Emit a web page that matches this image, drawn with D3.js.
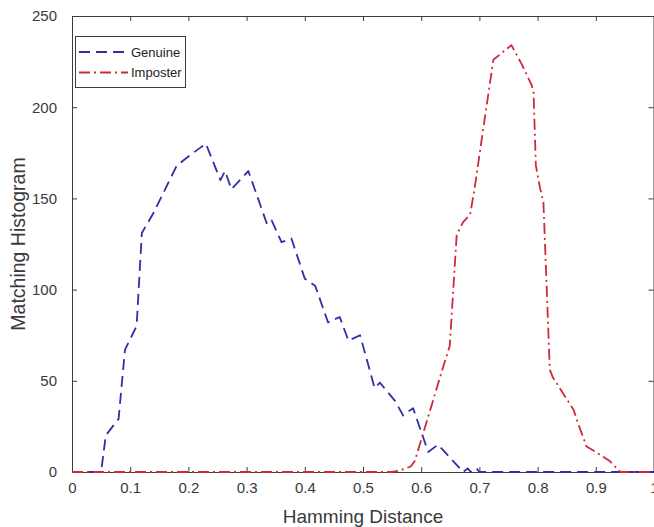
<!DOCTYPE html>
<html>
<head>
<meta charset="UTF-8">
<title>Matching Histogram</title>
<script src="https://cdnjs.cloudflare.com/ajax/libs/d3/7.8.5/d3.min.js"></script>
<style>
html, body { margin: 0; padding: 0; background: #fff; }
svg { font-family: 'Liberation Sans', Arial, sans-serif; display: block; }
</style>
</head>
<body>
<script>
// values
var genuineX = [0, 0.05, 0.058, 0.07, 0.08, 0.091, 0.111, 0.12, 0.14, 0.16, 0.18, 0.20, 0.23,
  0.255, 0.263, 0.274, 0.303, 0.335, 0.343, 0.36, 0.377, 0.40, 0.418, 0.44, 0.46, 0.475,
  0.495, 0.52, 0.529, 0.555, 0.569, 0.586, 0.612, 0.629, 0.672, 0.68, 0.685, 0.695, 0.70, 1];
var genuineY = [0, 0, 20, 25, 29, 67, 80, 131, 142, 155, 168, 173, 180,
  160, 165, 155, 165, 136, 138, 126, 128, 106, 102, 82, 85, 72,
  75, 46, 49, 39, 31, 35, 11, 15, 0, 2, 0, 2, 0, 0];

var imposterX = [0, 0.55, 0.565, 0.582, 0.589, 0.641, 0.649, 0.661, 0.672, 0.684, 0.692,
  0.707, 0.724, 0.755, 0.772, 0.79, 0.793, 0.797, 0.804, 0.81, 0.821, 0.826, 0.862, 0.868,
  0.884, 0.90, 0.924, 0.942, 1];
var imposterY = [0, 0, 1, 3, 6, 61, 69, 130, 137, 141, 156,
  189, 226, 234, 224, 212, 208, 168, 156, 148, 56, 52, 34, 28,
  14, 11, 6, 0, 0];

var xTicks = [0, 0.1, 0.2, 0.3, 0.4, 0.5, 0.6, 0.7, 0.8, 0.9, 1];
var yTicks = [0, 50, 100, 150, 200, 250];
var seriesNames = ["Genuine", "Imposter"];

var W = 654, H = 527;
var plotL = 72, plotR = 654, plotT = 16, plotB = 472;

var svg = d3.select("body").append("svg")
    .attr("width", W)
    .attr("height", H);

var x = d3.scaleLinear().domain([0, 1]).range([plotL, plotR]);
var y = d3.scaleLinear().domain([0, 250]).range([plotB, plotT]);

var axisColor = "#3c3c3c";
var fontTick = 15;

function styleAxis(g) {
    g.select(".domain").attr("stroke", axisColor);
    g.selectAll(".tick line").attr("stroke", axisColor);
    g.selectAll(".tick text").attr("fill", "#3a3a3a").attr("font-size", fontTick)
        .attr("font-family", "'Liberation Sans', Arial, sans-serif");
}

// box + ticks (inward, mirrored like matlab)
svg.append("g")
    .attr("transform", "translate(0," + plotB + ")")
    .call(d3.axisBottom(x).tickValues(xTicks).tickSizeInner(-5).tickSizeOuter(0)
        .tickPadding(10).tickFormat(d3.format("")))
    .call(styleAxis);
svg.append("g")
    .attr("transform", "translate(0," + plotT + ")")
    .call(d3.axisTop(x).tickValues(xTicks).tickSizeInner(-5).tickSizeOuter(0).tickFormat(""))
    .call(styleAxis);
svg.append("g")
    .attr("transform", "translate(" + plotL + ",0)")
    .call(d3.axisLeft(y).tickValues(yTicks).tickSizeInner(-5).tickSizeOuter(0).tickPadding(15))
    .call(styleAxis);
svg.append("g")
    .attr("transform", "translate(" + (plotR - 0.5) + ",0)")
    .call(d3.axisRight(y).tickValues(yTicks).tickSizeInner(-5).tickSizeOuter(0).tickFormat(""))
    .call(styleAxis);

var line = d3.line().x(function(d) { return x(d[0]); }).y(function(d) { return y(d[1]); });

var colors = ["#2f2fa8", "#cc2b3b"];
var dashes = ["11,6", "11,4,2,4"];
var series = [d3.zip(genuineX, genuineY), d3.zip(imposterX, imposterY)];

series.forEach(function(pts, i) {
    svg.append("path")
        .datum(pts)
        .attr("d", line)
        .attr("fill", "none")
        .attr("stroke", colors[i])
        .attr("stroke-width", 1.8)
        .attr("stroke-dasharray", dashes[i])
        .attr("stroke-linejoin", "round");
});

// axis labels
svg.append("text")
    .attr("x", (plotL + plotR) / 2)
    .attr("y", 523)
    .attr("text-anchor", "middle")
    .attr("font-size", 19)
    .attr("fill", "#3a3a3a")
    .text("Hamming Distance");
svg.append("text")
    .attr("transform", "translate(25," + ((plotT + plotB) / 2) + ") rotate(-90)")
    .attr("text-anchor", "middle")
    .attr("font-size", 19.5)
    .attr("fill", "#3a3a3a")
    .text("Matching Histogram");

// legend
var lg = svg.append("g");
lg.append("rect")
    .attr("x", 75.5).attr("y", 36.5)
    .attr("width", 110).attr("height", 51)
    .attr("fill", "#fff")
    .attr("stroke", axisColor);
seriesNames.forEach(function(name, i) {
    var ly = 52 + i * 20.5;
    lg.append("line")
        .attr("x1", 79).attr("x2", 128)
        .attr("y1", ly).attr("y2", ly)
        .attr("stroke", colors[i])
        .attr("stroke-width", 1.8)
        .attr("stroke-dasharray", dashes[i]);
    lg.append("text")
        .attr("x", 131)
        .attr("y", ly + 4.5)
        .attr("font-size", 13)
        .attr("fill", "#222")
        .text(name);
});
</script>
</body>
</html>
